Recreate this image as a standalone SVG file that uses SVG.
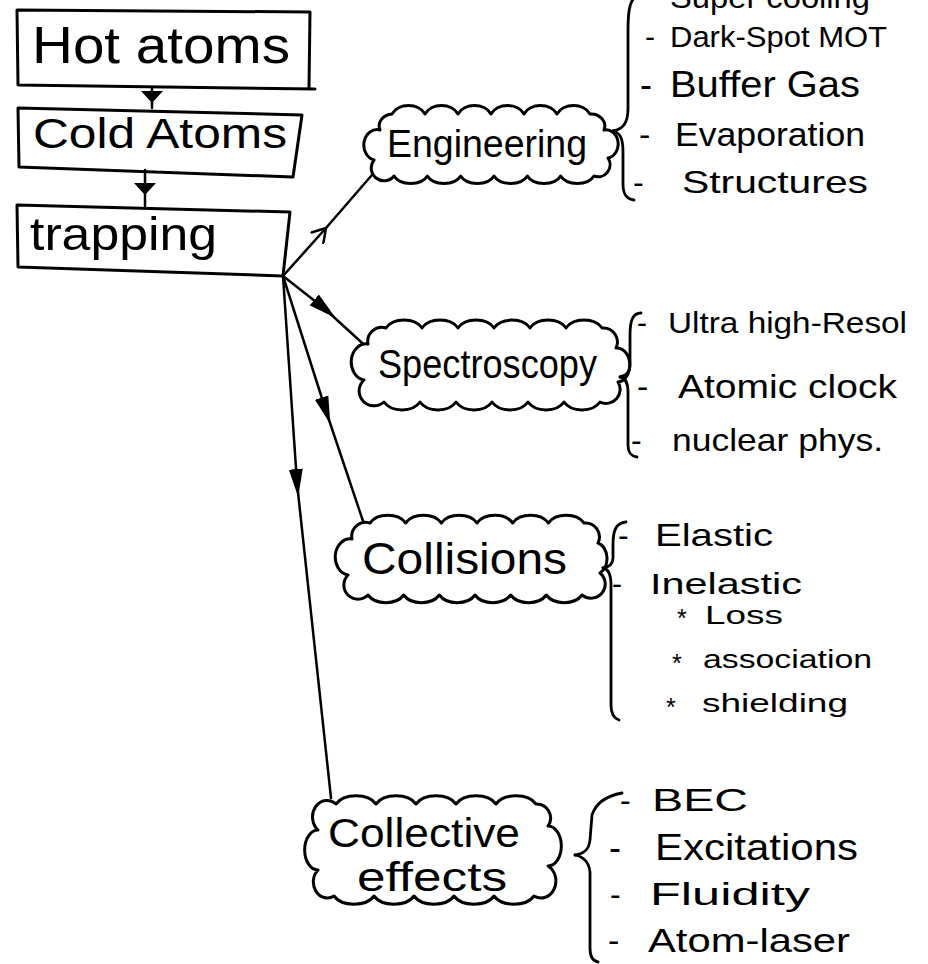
<svg xmlns="http://www.w3.org/2000/svg" width="928" height="964" viewBox="0 0 928 964">
<style>
  .box{fill:none;stroke:#000;stroke-width:3;stroke-linejoin:round;stroke-linecap:round}
  .cloud{fill:#fff;stroke:#000;stroke-width:3;stroke-linejoin:round}
  .conn{fill:none;stroke:#000;stroke-width:2.5;stroke-linecap:round}
  .brace{fill:none;stroke:#000;stroke-width:2.8;stroke-linecap:round}
  text{font-family:"Liberation Sans","DejaVu Sans",sans-serif;fill:#000}
  .big{font-size:52px}
  .mid{font-size:42px}
  .cl{font-size:40px}
  .it{font-size:32px}
  .sub{font-size:25px}
</style>
<defs>
  <marker id="filled" markerUnits="userSpaceOnUse" viewBox="0 0 28 16" markerWidth="28" markerHeight="16" refX="14" refY="8" orient="auto">
    <path d="M0,1 L28,8 L0,15 Z" fill="#000"/>
  </marker>
  <marker id="boxArrow" markerUnits="userSpaceOnUse" viewBox="0 0 12 22" markerWidth="12" markerHeight="22" refX="6" refY="11" orient="auto">
    <path d="M0,0 L12,11 L0,22 Z" fill="#000"/>
  </marker>
  <marker id="open" markerUnits="userSpaceOnUse" viewBox="0 0 16 18" markerWidth="16" markerHeight="18" refX="14" refY="9" orient="auto">
    <path d="M1,1 L14,9 L1,17" fill="none" stroke="#000" stroke-width="2.5" stroke-linecap="round"/>
  </marker>
</defs>
<rect width="928" height="964" fill="#fff"/>

<g id="connectors">
  <path class="conn" d="M152,88 L152,97 L152,108" marker-mid="url(#boxArrow)"/>
  <path class="conn" d="M145,170 L145,189 L145,206" marker-mid="url(#boxArrow)"/>
  <path class="conn" d="M283,276 L326,228 L378,168" marker-mid="url(#open)"/>
  <path class="conn" d="M283,276 L325,309 L372,352" marker-mid="url(#filled)"/>
  <path class="conn" d="M283,276 L326,411 L363,521" marker-mid="url(#filled)"/>
  <path class="conn" d="M283,276 L297,483 L331,798" marker-mid="url(#filled)"/>
</g>

<g id="node-hot-atoms">
  <path class="box" d="M315,89 L18,85 L17,10 L310,12 L309,88"/>
  <text class="big" x="32" y="63" textLength="258" lengthAdjust="spacingAndGlyphs">Hot atoms</text>
</g>
<g id="node-cold-atoms">
  <path class="box" d="M18,108 L302,115 L293,177 L19,167 Z"/>
  <text class="mid" x="33" y="148" textLength="254" lengthAdjust="spacingAndGlyphs">Cold Atoms</text>
</g>
<g id="node-trapping">
  <path class="box" d="M283,276 L18,267 L17,205 L290,212 L283,276"/>
  <text style="font-size:46px" x="30" y="250" textLength="187" lengthAdjust="spacingAndGlyphs">trapping</text>
</g>

<g id="node-engineering">
  <path class="cloud" d="M374,160 a12,14 0 0,1 6,-30 a14,12 0 0,1 12,-16 a18,14 0 0,1 33,0 a18,14 0 0,1 33,0 a18,14 0 0,1 33,0 a18,14 0 0,1 33,0 a18,14 0 0,1 33,0 a18,14 0 0,1 33,0 a14,12 0 0,1 14,16 a12,14 0 0,1 4,28 a12,12 0 0,1 -14,18 a18,12 0 0,1 -33.33,0 a18,12 0 0,1 -33.33,0 a18,12 0 0,1 -33.33,0 a18,12 0 0,1 -33.33,0 a18,12 0 0,1 -33.33,0 a18,12 0 0,1 -33.33,0 a12,12 0 0,1 -20,-16 Z"/>
  <text style="font-size:38px" x="387" y="157" textLength="200" lengthAdjust="spacingAndGlyphs">Engineering</text>
</g>
<g id="node-spectroscopy">
  <path class="cloud" d="M364,380 a13,16 0 0,1 4,-36 a14,14 0 0,1 18,-16 a20,14 0 0,1 36,0 a20,14 0 0,1 36,0 a20,14 0 0,1 36,0 a20,14 0 0,1 36,0 a20,14 0 0,1 36,0 a20,14 0 0,1 36,0 a14,14 0 0,1 14,20 a12,16 0 0,1 2,34 a14,14 0 0,1 -18,20 a20,14 0 0,1 -36,0 a20,14 0 0,1 -36,0 a20,14 0 0,1 -36,0 a20,14 0 0,1 -36,0 a20,14 0 0,1 -36,0 a20,14 0 0,1 -36,0 a14,14 0 0,1 -20,-22 Z"/>
  <text class="cl" x="378" y="378" textLength="219" lengthAdjust="spacingAndGlyphs">Spectroscopy</text>
</g>
<g id="node-collisions">
  <path class="cloud" d="M348,575 a13,16 0 0,1 4,-36 a14,14 0 0,1 18,-16 a20,14 0 0,1 35.67,0 a20,14 0 0,1 35.67,0 a20,14 0 0,1 35.67,0 a20,14 0 0,1 35.67,0 a20,14 0 0,1 35.67,0 a20,14 0 0,1 35.67,0 a14,14 0 0,1 14,20 a12,16 0 0,1 2,30 a14,14 0 0,1 -18,22 a20,14 0 0,1 -35.67,0 a20,14 0 0,1 -35.67,0 a20,14 0 0,1 -35.67,0 a20,14 0 0,1 -35.67,0 a20,14 0 0,1 -35.67,0 a20,14 0 0,1 -35.67,0 a14,14 0 0,1 -20,-20 Z"/>
  <text style="font-size:44px" x="362" y="574" textLength="205" lengthAdjust="spacingAndGlyphs">Collisions</text>
</g>
<g id="node-collective-effects">
  <path class="cloud" d="M318,870 a12,18 0 0,1 0,-40 a14,16 0 0,1 18,-26 a22,14 0 0,1 40,0 a22,14 0 0,1 40,0 a22,14 0 0,1 40,0 a22,14 0 0,1 40,0 a22,14 0 0,1 40,0 a14,14 0 0,1 12,22 a12,18 0 0,1 0,40 a14,16 0 0,1 -14,30 a22,14 0 0,1 -40,0 a22,14 0 0,1 -40,0 a22,14 0 0,1 -40,0 a22,14 0 0,1 -40,0 a22,14 0 0,1 -40,0 a14,16 0 0,1 -16,-26 Z"/>
  <text style="font-size:40px" x="328" y="847" textLength="192" lengthAdjust="spacingAndGlyphs">Collective</text>
  <text style="font-size:40px" x="357" y="891" textLength="150" lengthAdjust="spacingAndGlyphs">effects</text>
</g>

<g id="list-engineering">
  <path class="brace" d="M640,-6 C630,-2 628,8 628,30 L628,108 C628,122 624,129 613,131"/>
  <path class="brace" d="M613,131 C621,133 623,140 623,152 L623,184 C623,194 626,199 634,200"/>
  <text class="it" x="670" y="8" textLength="200" lengthAdjust="spacingAndGlyphs">Super cooling</text>
  <text style="font-size:30px" y="47"><tspan x="645">-</tspan><tspan x="670" textLength="217" lengthAdjust="spacingAndGlyphs">Dark-Spot MOT</tspan></text>
  <text style="font-size:36px" y="97"><tspan x="640">-</tspan><tspan x="670" textLength="190" lengthAdjust="spacingAndGlyphs">Buffer Gas</tspan></text>
  <text style="font-size:34px" y="146"><tspan x="639">-</tspan><tspan x="675" textLength="190" lengthAdjust="spacingAndGlyphs">Evaporation</tspan></text>
  <text style="font-size:32px" y="193"><tspan x="633">-</tspan><tspan x="682" textLength="186" lengthAdjust="spacingAndGlyphs">Structures</tspan></text>
</g>

<g id="list-spectroscopy">
  <path class="brace" d="M641,313 C633,313 630,320 630,335 L630,364 C630,372 626,376 620,377"/>
  <path class="brace" d="M620,377 C626,378 628,384 628,392 L628,445 C628,452 630,456 637,457"/>
  <text style="font-size:30px" y="333"><tspan x="637">-</tspan><tspan x="668" textLength="239" lengthAdjust="spacingAndGlyphs">Ultra high-Resol</tspan></text>
  <text style="font-size:34px" y="398"><tspan x="637">-</tspan><tspan x="678" textLength="219" lengthAdjust="spacingAndGlyphs">Atomic clock</tspan></text>
  <text style="font-size:32px" y="451"><tspan x="631">-</tspan><tspan x="672" textLength="211" lengthAdjust="spacingAndGlyphs">nuclear phys.</tspan></text>
</g>

<g id="list-collisions">
  <path class="brace" d="M626,522 C616,523 613,530 613,545 L613,558 C613,564 609,567 603,568"/>
  <path class="brace" d="M603,568 C609,569 611,575 611,585 L611,705 C611,713 613,718 619,720"/>
  <text class="it" y="546"><tspan x="618">-</tspan><tspan x="655" textLength="118" lengthAdjust="spacingAndGlyphs">Elastic</tspan></text>
  <text style="font-size:30px" y="594"><tspan x="612">-</tspan><tspan x="650" textLength="152" lengthAdjust="spacingAndGlyphs">Inelastic</tspan></text>
  <text class="sub" y="627"><tspan x="677">*</tspan><tspan x="705" y="624" textLength="78" lengthAdjust="spacingAndGlyphs">Loss</tspan></text>
  <text class="sub" y="672"><tspan x="672">*</tspan><tspan x="703" y="668" textLength="169" lengthAdjust="spacingAndGlyphs">association</tspan></text>
  <text class="sub" y="716"><tspan x="666">*</tspan><tspan x="702" y="712" textLength="146" lengthAdjust="spacingAndGlyphs">shielding</tspan></text>
</g>

<g id="list-collective">
  <path class="brace" d="M622,793 C611,795 597,800 592,815 L590,840 C589,850 584,854 575,855"/>
  <path class="brace" d="M575,855 C584,857 589,862 590,872 L590,948 C590,956 592,961 598,962"/>
  <text class="it" y="811"><tspan x="620">-</tspan><tspan x="652" textLength="96" lengthAdjust="spacingAndGlyphs">BEC</tspan></text>
  <text style="font-size:36px" y="860"><tspan x="609">-</tspan><tspan x="655" textLength="203" lengthAdjust="spacingAndGlyphs">Excitations</tspan></text>
  <text class="it" y="905"><tspan x="610">-</tspan><tspan x="650" textLength="160" lengthAdjust="spacingAndGlyphs">Fluidity</tspan></text>
  <text style="font-size:34px" y="952"><tspan x="608">-</tspan><tspan x="648" textLength="202" lengthAdjust="spacingAndGlyphs">Atom-laser</tspan></text>
</g>
</svg>
